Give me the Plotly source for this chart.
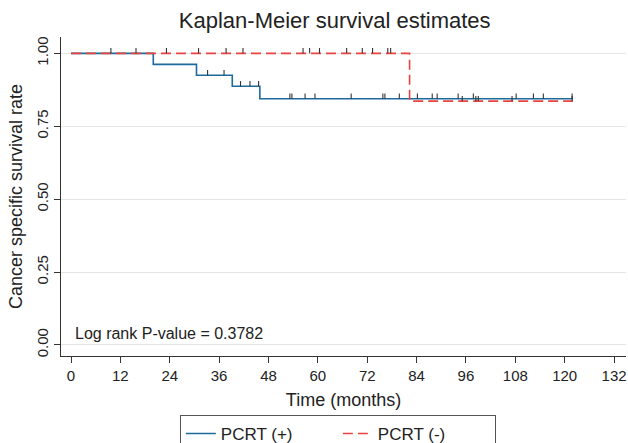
import plotly.graph_objects as go

# ---- data ----
pos_times = [0, 20.0, 30.5, 39.2, 45.9, 122.0]
pos_surv = [1.0, 0.962, 0.925, 0.887, 0.844, 0.844]
pos_censor = [33.2, 37.2, 41.2, 43.5, 45.6, 53.2, 53.7, 56.9, 59.3, 68.1,
              75.8, 76.3, 79.8, 84.2, 87.8, 89.0, 94.1, 97.8, 108.2, 112.4,
              114.8, 121.8]

neg_times = [0, 82.3, 122.0]
neg_surv = [1.0, 0.836, 0.836]
neg_censor = [9.7, 15.8, 23.2, 31.0, 37.7, 41.8, 56.4, 58.0, 60.4, 67.0,
              70.8, 73.3, 77.0, 77.7, 95.1, 98.4, 99.0, 107.2, 121.8]

x_ticks = list(range(0, 133, 12))
y_ticks = [0.0, 0.25, 0.5, 0.75, 1.0]
y_labels = ["0.00", "0.25", "0.50", "0.75", "1.00"]

BLUE = "#1f6a9c"
RED = "#e8443f"
TICK = "#333333"
FONT = "Liberation Sans, Arial, sans-serif"
CENSOR_LEN = 0.018  # length of the censor tick, in survival units (style)


def surv_at(times, surv, t):
    val = surv[0]
    for ti, si in zip(times, surv):
        if ti <= t:
            val = si
    return val


def censor_trace(times, surv, cens):
    return go.Scatter(
        x=cens, y=[surv_at(times, surv, t) for t in cens],
        mode="markers", showlegend=False, hoverinfo="skip",
        marker=dict(size=1, color="rgba(0,0,0,0)"),
        error_y=dict(type="data", symmetric=False,
                     array=[CENSOR_LEN] * len(cens), arrayminus=[0] * len(cens),
                     width=0, thickness=1.1, color=TICK))


fig = go.Figure()
fig.add_trace(go.Scatter(x=pos_times, y=pos_surv, mode="lines", line_shape="hv",
                         line=dict(color=BLUE, width=1.6), name="PCRT (+)"))
fig.add_trace(go.Scatter(x=neg_times, y=neg_surv, mode="lines", line_shape="hv",
                         line=dict(color=RED, width=1.6, dash="10px,5px"), name="PCRT (-)"))
fig.add_trace(censor_trace(pos_times, pos_surv, pos_censor))
fig.add_trace(censor_trace(neg_times, neg_surv, neg_censor))

fig.update_layout(
    width=628, height=443,
    margin=dict(l=61, r=2, t=37, b=87, autoexpand=False),
    paper_bgcolor="white", plot_bgcolor="white",
    font=dict(family=FONT, size=15, color="#222222"),
    title=dict(text="Kaplan-Meier survival estimates", x=0.533, xref="container",
               xanchor="center", y=0.955, yanchor="middle",
               font=dict(size=22, color="#222222", family=FONT)),
    xaxis=dict(range=[-2.43, 134.9], tickvals=x_ticks, showgrid=False, zeroline=False,
               showline=True, linecolor=TICK, linewidth=1, automargin=False,
               ticks="outside", ticklen=6, tickcolor=TICK, tickfont=dict(size=15),
               title=dict(text="Time (months)", standoff=10, font=dict(size=18))),
    yaxis=dict(range=[-0.038, 1.056], tickvals=y_ticks, ticktext=y_labels, tickangle=-90,
               showgrid=True, gridcolor="#e6e6e6", gridwidth=1, zeroline=False,
               showline=True, linecolor=TICK, linewidth=1, automargin=False,
               ticks="outside", ticklen=6, tickcolor=TICK, tickfont=dict(size=15),
               title=dict(text="Cancer specific survival rate", standoff=6, font=dict(size=18))),
    legend=dict(orientation="h", x=0.49, xanchor="center", y=-0.185, yanchor="top",
                bordercolor="#555555", borderwidth=1, font=dict(size=17),
                entrywidth=112, entrywidthmode="pixels"),
    annotations=[dict(text="Log rank P-value = 0.3782", xref="paper", yref="paper",
                      x=0.021, y=0.072, xanchor="left", yanchor="middle",
                      showarrow=False, font=dict(size=16, color="#222222"))],
)

# remove the default page margin so the figure fills the window exactly
fig.write_html("out.html", config={"displayModeBar": False},
               post_script="document.body.style.margin='0';document.body.style.overflow='hidden';")
